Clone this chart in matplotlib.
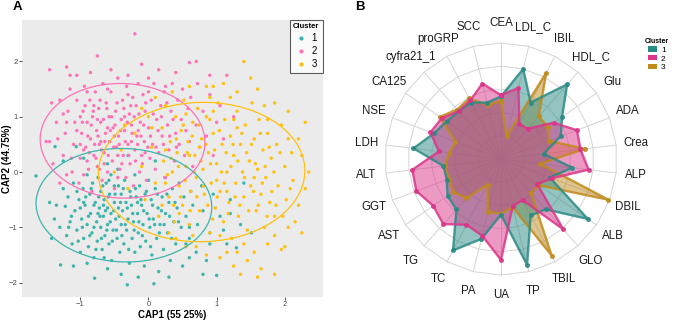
import numpy as np
import matplotlib.pyplot as plt
from matplotlib.patches import Ellipse, Patch
from matplotlib.lines import Line2D

plt.rcParams['font.family'] = ['Liberation Sans', 'DejaVu Sans']

# ---- panel A: CAP scores (a thinned sample of each cloud)
c1_pts = [(-1.65, -0.07), (-1.45, -0.55), (-1.38, -0.85), (-1.3, -1.0), (-1.29, -1.68), (-1.25, -0.3),
          (-1.22, -0.62), (-1.2, -1.15), (-1.18, -0.45), (-1.15, -0.9), (-1.12, -1.3), (-1.1, -0.2),
          (-1.08, -0.7), (-1.05, -1.05), (-1.02, -0.5), (-1.0, -1.45), (-0.98, -0.85), (-0.96, -0.3),
          (-0.95, -1.2), (-0.93, -0.6), (-0.9, -0.05), (-0.9, -0.95), (-0.88, -1.35), (-0.86, -0.4),
          (-0.85, -0.75), (-0.83, -1.1), (-0.82, -0.2), (-0.8, -1.55), (-0.79, -1.92), (-0.78, -0.55),
          (-0.76, -0.9), (-0.75, -1.25), (-0.74, -0.1), (-0.72, -0.65), (-0.7, -1.0), (-0.7, -0.35),
          (-0.68, -1.4), (-0.66, -0.8), (-0.65, -0.5), (-0.64, -1.15), (-0.62, -0.2), (-0.6, -0.95),
          (-0.6, -0.65), (-0.58, -1.3), (-0.57, -0.4), (-0.55, -0.75), (-0.54, -1.6), (-0.52, -1.05),
          (-0.5, -0.55), (-0.5, -0.25), (-0.48, -0.85), (-0.46, -1.2), (-0.45, 0.05), (-0.44, -0.65),
          (-0.42, -1.45), (-0.4, -0.4), (-0.4, -0.95), (-0.38, -0.7), (-0.36, -1.3), (-0.35, -0.15),
          (-0.33, -0.55), (-0.32, -1.05), (-0.31, -2.04), (-0.3, -0.85), (-0.28, -1.65), (-0.27, -0.35),
          (-0.25, -0.6), (-0.24, -1.2), (-0.22, -0.9), (-0.2, -0.05), (-0.2, -1.45), (-0.18, -0.45),
          (-0.16, -0.75), (-0.15, -1.1), (-0.13, -0.25), (-0.12, -1.35), (-0.1, -0.6), (-0.08, -0.95),
          (-0.06, -1.7), (-0.05, -0.4), (-0.04, -1.25), (-0.02, -0.75), (0.0, -0.15), (0.02, -1.0),
          (0.04, -0.5), (0.05, -1.5), (0.07, -0.85), (0.08, -2.02), (0.1, -0.3), (0.12, -1.2),
          (0.14, -0.65), (0.15, -1.8), (0.17, -0.95), (0.2, -0.45), (0.22, -1.4), (0.24, -0.1),
          (0.25, -0.75), (0.28, -1.1), (0.3, -0.55), (0.32, -1.6), (0.35, -0.3), (0.37, -0.9),
          (0.4, -1.3), (0.42, -0.65), (0.45, -0.2), (0.48, -1.0), (0.5, -1.7), (0.52, -0.45),
          (0.55, -0.8), (0.6, -1.2), (0.62, -0.35), (0.65, -0.6), (0.7, -1.45), (0.72, -0.95),
          (0.78, -0.25), (0.8, -0.7), (0.85, -1.6), (0.9, -1.1), (0.95, -0.4), (1.0, -1.87),
          (1.05, -0.8), (1.15, -1.3), (1.2, -0.5), (1.29, -1.37), (1.35, -0.95), (1.51, -1.1),
          (1.4, -0.2), (-1.37, 0.46), (-1.06, 0.46), (-1.25, 0.2), (-0.95, 0.25), (-0.6, 0.15),
          (-0.3, 0.3), (0.1, 0.2), (-1.42, -1.2), (-1.1, -1.7), (-0.6, -1.75), (-0.4, -1.85),
          (0.3, -1.9), (0.6, -1.55), (-0.65, -1.55), (-0.9, -1.65), (-1.35, -0.6), (-0.55, -0.05),
          (0.55, -1.3), (0.8, -1.85), (-0.15, -1.9),
          (-1.05, -0.35), (-1.0, -0.65), (-0.97, -1.0), (-0.92, -0.45), (-0.88, -0.8), (-0.84, -0.3),
          (-0.8, -0.6), (-0.8, -1.0), (-0.77, -1.4), (-0.73, -0.45), (-0.71, -0.8), (-0.69, -1.2),
          (-0.67, -0.25), (-0.63, -0.7), (-0.61, -1.05), (-0.59, -0.45), (-0.56, -0.9), (-0.53, -1.25),
          (-0.51, -0.7), (-0.49, -0.4), (-0.47, -1.05), (-0.43, -0.8), (-0.41, -0.55), (-0.39, -1.15),
          (-0.37, -0.3), (-0.34, -0.95), (-0.31, -0.65), (-0.29, -1.4), (-0.26, -0.45), (-0.23, -0.75),
          (-0.21, -1.05), (-0.19, -0.3), (-0.14, -0.9), (-0.11, -0.5), (-0.09, -1.15), (-0.07, -0.7),
          (-0.03, -0.35), (0.01, -0.85), (0.03, -1.35), (0.06, -0.6), (0.09, -0.95), (0.13, -0.4),
          (0.16, -1.1), (0.19, -0.7), (0.23, -0.95), (0.27, -0.4), (0.31, -0.8), (0.34, -1.2),
          (0.39, -0.55), (0.44, -0.9), (-1.13, -0.8), (-1.17, -1.0), (-1.03, -1.25), (-0.86, -1.15),
          (-0.66, -0.6), (-0.44, -0.25), (-0.58, -0.15), (-0.95, -0.55), (-0.74, -0.75), (-0.16, -0.55),
          (0.6, -1.0), (1.2, -0.75), (0.9, -1.3), (1.1, -1.05)]

c2_pts = [(-1.45, 1.85), (-1.2, 1.9), (-0.75, 2.1), (-0.2, 2.5), (0.6, 1.98), (0.7, 2.0), (-1.05, 1.75),
          (-0.1, 1.95), (0.15, 1.85), (0.4, 1.8), (1.15, 1.75), (-1.45, 0.55), (-1.5, 0.55), (-1.35, 0.9),
          (-1.3, 1.3), (-1.25, 0.3), (-1.22, 0.7), (-1.18, 1.1), (-1.15, 1.5), (-1.12, 0.0), (-1.1, 0.5),
          (-1.08, 0.9), (-1.05, 1.3), (-1.02, -0.2), (-1.0, 0.25), (-0.98, 0.7), (-0.96, 1.1),
          (-0.94, 1.55), (-0.92, 0.45), (-0.9, 0.9), (-0.88, 0.05), (-0.86, 1.3), (-0.85, 0.6),
          (-0.83, -0.35), (-0.82, 1.0), (-0.8, 0.3), (-0.78, 1.45), (-0.76, 0.75), (-0.75, 0.1),
          (-0.73, 1.15), (-0.72, 0.5), (-0.7, 0.9), (-0.68, -0.15), (-0.67, 1.6), (-0.65, 0.35),
          (-0.63, 0.7), (-0.62, 1.25), (-0.6, 0.0), (-0.58, 1.0), (-0.57, 0.55), (-0.55, 1.45),
          (-0.53, 0.2), (-0.52, 0.8), (-0.5, -0.3), (-0.48, 1.1), (-0.47, 0.45), (-0.45, 1.7),
          (-0.44, 0.65), (-0.42, 0.05), (-0.4, 0.95), (-0.38, 1.3), (-0.37, 0.3), (-0.35, 0.75),
          (-0.33, -0.1), (-0.32, 1.55), (-0.3, 0.5), (-0.28, 1.05), (-0.27, 0.15), (-0.25, 0.85),
          (-0.23, 1.35), (-0.22, -0.25), (-0.2, 0.4), (-0.18, 1.2), (-0.17, 0.65), (-0.15, 1.6),
          (-0.13, 0.0), (-0.12, 0.9), (-0.1, 0.3), (-0.08, 1.4), (-0.06, 0.55), (-0.05, 1.1),
          (-0.03, -0.15), (0.0, 0.8), (0.02, 0.25), (0.04, 1.3), (0.06, 0.5), (0.08, 1.6), (0.1, 0.05),
          (0.12, 0.95), (0.15, 0.35), (0.18, 1.2), (0.2, 0.65), (0.23, 1.45), (0.25, -0.1), (0.28, 0.85),
          (0.3, 0.4), (0.33, 1.1), (0.35, 1.6), (0.38, 0.2), (0.4, 0.7), (0.43, 1.3), (0.45, 0.5),
          (0.48, 0.95), (0.5, 1.5), (0.53, 0.3), (0.55, 0.75), (0.58, 1.15), (0.6, 0.55), (0.62, 1.35),
          (0.65, 0.1), (0.7, 0.85), (0.72, 1.6), (0.75, 0.45), (0.8, 1.1), (0.85, 0.65), (0.9, 1.4),
          (0.95, 0.3), (1.0, 0.9), (1.05, 1.2), (1.1, 0.6), (-1.3, -0.2), (-1.4, 0.15), (-1.2, -0.05),
          (-0.95, -0.05), (-1.15, 1.75), (-0.85, 1.8), (-0.55, 1.85), (-0.3, 1.75), (0.0, 1.7),
          (-0.9, 0.2), (-0.65, 0.15), (-0.7, 0.55), (-0.6, 0.8), (-0.5, 0.65), (-0.45, 0.3),
          (-0.35, 1.0), (-0.25, 0.55), (-0.15, 0.75), (-0.05, 0.35), (-0.8, 1.2), (-1.0, 1.0),
          (-0.75, 0.95), (-0.95, 0.4), (-1.25, 1.05), (1.25, 1.0), (0.9, 1.75), (-1.42, 1.25),
          (-1.05, 0.75), (-1.0, 0.5), (-0.97, 0.9), (-0.93, 1.2), (-0.89, 0.65), (-0.87, 0.35),
          (-0.84, 0.85), (-0.81, 1.1), (-0.79, 0.5), (-0.77, 0.25), (-0.74, 0.65), (-0.71, 1.3),
          (-0.69, 0.4), (-0.66, 0.95), (-0.64, 0.55), (-0.61, 1.15), (-0.59, 0.3), (-0.56, 0.75),
          (-0.54, 1.0), (-0.51, 0.45), (-0.49, 0.85), (-0.46, 1.25), (-0.43, 0.5), (-0.41, 0.75),
          (-0.39, 0.15), (-0.36, 1.15), (-0.34, 0.55), (-0.31, 0.9), (-0.29, 0.3), (-0.26, 1.2),
          (-0.24, 0.7), (-0.21, 1.0), (-0.19, 0.2), (-0.16, 0.5), (-0.14, 1.05), (-0.11, 0.65),
          (-0.09, 0.15), (-0.07, 0.85), (-0.04, 1.25), (-0.01, 0.45), (0.03, 0.65), (0.07, 1.05),
          (0.11, 0.45), (0.14, 0.75), (0.19, 1.0), (0.22, 0.5), (0.27, 1.25), (0.31, 0.65),
          (0.36, 0.95), (0.41, 0.45), (-1.13, 0.25), (-1.2, 0.9), (-0.9, 1.45), (-0.6, 1.5),
          (-0.3, 1.4), (0.0, 1.45), (-0.72, 0.05), (-0.45, -0.1), (-1.33, 0.6), (0.25, 1.55)]

c3_pts = [(1.4, 2.0), (1.5, 1.7), (1.85, 1.25), (2.05, 1.1), (2.35, 0.0), (2.3, -0.3), (1.95, -1.4),
          (1.6, -1.9), (1.25, -1.7), (0.85, 1.55), (0.9, 1.35), (1.1, 1.6), (1.3, 1.45), (1.6, 1.5),
          (1.75, 0.95), (2.2, 0.6), (2.25, 0.3), (2.2, -0.6), (2.05, -1.0), (1.85, -1.15), (1.55, -1.45),
          (1.3, -1.45), (1.05, -1.55), (0.7, -1.35), (0.4, -1.2), (0.3, -1.1), (-0.5, 0.0), (-0.4, 0.4),
          (-0.3, -0.3), (-0.2, 0.7), (-0.1, 0.1), (-0.05, -0.5), (0.0, 1.0), (0.05, 0.45), (0.1, -0.2),
          (0.15, -0.8), (0.2, 0.8), (0.22, 0.2), (0.25, 1.2), (0.3, -0.45), (0.32, 0.55), (0.35, 0.0),
          (0.38, -0.9), (0.4, 1.0), (0.42, 0.35), (0.45, -0.25), (0.48, 0.75), (0.5, -0.6), (0.52, 1.3),
          (0.55, 0.1), (0.58, 0.55), (0.6, -0.95), (0.62, -0.35), (0.65, 0.9), (0.68, 0.3), (0.7, -0.1),
          (0.72, 1.15), (0.75, -0.7), (0.78, 0.6), (0.8, 0.05), (0.82, -0.4), (0.85, 1.0), (0.88, 0.35),
          (0.9, -1.1), (0.92, -0.2), (0.95, 0.7), (0.98, -0.65), (1.0, 0.15), (1.02, 1.25), (1.05, -0.35),
          (1.08, 0.5), (1.1, -0.9), (1.12, 0.95), (1.15, 0.0), (1.18, -0.55), (1.2, 0.65), (1.22, -1.2),
          (1.25, 0.3), (1.28, -0.2), (1.3, 1.1), (1.32, -0.8), (1.35, 0.5), (1.38, 0.0), (1.4, -0.45),
          (1.42, 0.85), (1.45, -1.05), (1.48, 0.2), (1.5, -0.25), (1.52, 1.25), (1.55, 0.6), (1.58, -0.7),
          (1.6, 0.05), (1.62, 0.95), (1.65, -0.4), (1.68, 0.4), (1.7, -1.0), (1.72, -0.1), (1.75, 0.7),
          (1.78, -0.55), (1.8, 0.25), (1.85, -0.8), (1.88, 0.5), (1.9, -0.25), (1.95, 0.85), (2.0, 0.1),
          (2.02, -0.5), (2.1, 0.35), (2.12, -0.15), (2.15, -0.9), (2.25, -1.1), (2.0, -1.35), (1.75, -1.3),
          (1.45, -1.6), (1.15, -1.45), (0.85, -1.5), (0.55, -1.35), (0.95, 1.55), (1.2, 1.35), (1.7, 1.2),
          (0.6, 1.55), (0.35, 1.45), (0.1, 1.35), (-0.1, 1.15), (-0.35, 0.85), (1.85, -1.85), (1.65, -1.75),
          (1.35, -1.85), (2.3, 0.9), (1.0, -0.15), (0.75, 0.45), (1.3, 0.8), (0.6, 0.3), (0.45, -0.75),
          (1.15, -0.35), (0.9, 0.95), (1.55, -0.1), (0.25, -0.2), (0.05, 0.8),
          (0.25, 0.4), (0.28, -0.05), (0.33, 0.25), (0.37, -0.6), (0.41, 0.6), (0.44, 0.1), (0.47, -0.45),
          (0.51, 0.85), (0.54, -0.15), (0.57, 0.35), (0.61, -0.7), (0.64, 0.65), (0.67, 0.0), (0.71, -0.45),
          (0.74, 0.85), (0.77, 0.2), (0.81, -0.25), (0.84, 0.5), (0.87, -0.6), (0.91, 0.15), (0.94, -0.85),
          (0.97, 0.4), (1.01, -0.45), (1.04, 0.75), (1.07, 0.0), (1.11, -0.2), (1.14, 0.35), (1.17, -0.75),
          (1.21, 0.1), (1.24, 0.5), (1.27, -0.45), (1.31, 0.2), (1.34, -0.6), (1.37, 0.7), (1.41, -0.1),
          (1.44, 0.35), (1.47, -0.7), (1.51, 0.5), (1.54, -0.35), (1.57, 0.15), (1.61, -0.6), (1.64, 0.7),
          (1.67, -0.2), (1.71, 0.1), (1.74, -0.8), (1.77, 0.45), (1.81, -0.35), (1.84, 0.0), (1.87, -0.6),
          (1.93, 0.35), (1.97, -0.8), (2.05, 0.6), (2.08, -0.3), (0.95, 1.1), (1.25, 0.95), (0.55, 1.05),
          (0.2, -0.6), (0.65, -1.15), (1.05, -1.15), (1.4, -1.3)]

clusters = ['1', '2', '3']
ell_cx = [-0.36, -0.38, 0.78]
ell_cy = [-0.60, 0.565, 0.0]
ell_w = [2.58, 2.42, 3.03]
ell_h = [2.05, 2.07, 2.52]
ell_ang = [-4, -5, 3]

# ---- panel B: radar profile (scaled 0-1)
radar_vars = ['CEA', 'LDL_C', 'IBIL', 'HDL_C', 'Glu', 'ADA', 'Crea', 'ALP', 'DBIL', 'ALB', 'GLO',
              'TBIL', 'TP', 'UA', 'PA', 'TC', 'TG', 'AST', 'GGT', 'ALT', 'LDH', 'NSE', 'CA125',
              'cyfra21_1', 'proGRP', 'SCC']
radar_c1 = [0.54, 0.80, 0.55, 0.86, 0.64, 0.55, 0.37, 0.62, 0.45, 0.91, 0.58, 0.55, 0.94,
            0.48, 0.71, 0.89, 0.58, 0.56, 0.50, 0.50, 0.76, 0.62, 0.57, 0.55, 0.55, 0.50]
radar_c2 = [0.55, 0.63, 0.34, 0.35, 0.55, 0.70, 0.69, 0.76, 0.47, 0.38, 0.81, 0.40, 0.42,
            0.87, 0.68, 0.64, 0.75, 0.71, 0.78, 0.77, 0.54, 0.65, 0.62, 0.55, 0.57, 0.67]
radar_c3 = [0.50, 0.20, 0.84, 0.49, 0.49, 0.44, 0.73, 0.34, 0.99, 0.40, 0.39, 0.94, 0.43,
            0.47, 0.47, 0.25, 0.45, 0.50, 0.48, 0.49, 0.45, 0.42, 0.64, 0.57, 0.59, 0.48]
rings = [0.2, 0.4, 0.6, 0.8, 1.0]

pt_cols = ['#3DB5AC', '#FF72B6', '#FFC010']
rad_cols = ['#2A8A85', '#DB3589', '#C08A1C']

fig = plt.figure(figsize=(6.76, 3.2), dpi=100)

# ================= A
axA = fig.add_axes([22 / 676, 23 / 320, 301 / 676, 277 / 320])
axA.set_facecolor('#EBEBEB')
for pts, col in zip([c1_pts, c2_pts, c3_pts], pt_cols):
    xs, ys = zip(*pts)
    axA.scatter(xs, ys, s=6, color=col, edgecolors='none', zorder=2)
for i in range(3):
    axA.add_patch(Ellipse((ell_cx[i], ell_cy[i]), ell_w[i], ell_h[i], angle=ell_ang[i],
                          fill=False, edgecolor=pt_cols[i], lw=0.9, zorder=3))
axA.set_xlim(-1.855, 2.56)
axA.set_ylim(-2.26, 2.75)
axA.set_xticks([-1, 0, 1, 2])
axA.set_yticks([-2, -1, 0, 1, 2])
axA.tick_params(length=2, width=0.6, color='#333333', labelsize=5.5, labelcolor='#4D4D4D', pad=1)
for s in axA.spines.values():
    s.set_visible(False)
axA.set_xlabel('CAP1 (55 25%)', fontsize=7, fontweight='bold', labelpad=1)
axA.set_ylabel('CAP2 (44.75%)', fontsize=7, fontweight='bold')
axA.yaxis.set_label_coords(-10 / 301, 0.5)
hA = [Line2D([], [], ls='none', marker='o', ms=2, color=c) for c in pt_cols]
legA = axA.legend(hA, clusters, title='Cluster', loc='upper right', bbox_to_anchor=(1.0, 1.0),
                  fontsize=7, title_fontsize=5.5, frameon=True, fancybox=False,
                  handlelength=1.0, handletextpad=0.6, borderpad=0.35, labelspacing=0.3,
                  borderaxespad=0.0)
legA.get_title().set_fontweight('bold')
legA.get_frame().set_edgecolor('#333333')
legA.get_frame().set_linewidth(0.8)

fig.text(13 / 676, 1 - 7 / 320, 'A', fontsize=9.5, fontweight='bold', va='center', ha='left')
fig.text(355 / 676, 1 - 7 / 320, 'B', fontsize=9.5, fontweight='bold', va='center', ha='left')

# ================= B
axB = fig.add_axes([351 / 676, 11 / 320, 300 / 676, 300 / 320])
lim = 150 / 116
axB.set_xlim(-lim, lim)
axB.set_ylim(-lim, lim)
axB.axis('off')

n = len(radar_vars)
theta = np.arange(n) * 2 * np.pi / n
tc = np.append(theta, theta[0])
for r in rings:
    axB.plot(r * np.sin(tc), r * np.cos(tc), color='#D4D4D4', lw=0.7, zorder=1)
for t in theta:
    axB.plot([0, np.sin(t)], [0, np.cos(t)], color='#D4D4D4', lw=0.7, zorder=1)

series = [radar_c1, radar_c2, radar_c3]
for k in [2, 0, 1]:
    v = np.append(series[k], series[k][0])
    x = v * np.sin(tc)
    y = v * np.cos(tc)
    axB.fill(x, y, color=rad_cols[k], alpha=0.5, lw=0, zorder=2)
    axB.plot(x, y, color=rad_cols[k], lw=1.7, alpha=0.85, zorder=3,
             marker='o', ms=2.6, solid_joinstyle='round')

for name, t in zip(radar_vars, theta):
    axB.text(1.17 * np.sin(t), 1.17 * np.cos(t), name, ha='center', va='center',
             fontsize=8.3, color='#1A1A1A')

hB = [Patch(facecolor=c, edgecolor='none') for c in rad_cols]
legB = fig.legend(hB, clusters, title='Cluster', loc='upper left',
                  bbox_to_anchor=(645 / 676, 1 - 38 / 320), fontsize=6, title_fontsize=5,
                  frameon=False, handlelength=1.0, handleheight=0.6, handletextpad=0.5,
                  borderpad=0.0, labelspacing=0.15, borderaxespad=0.0)
legB.get_title().set_fontweight('bold')

fig.savefig('out.png', dpi=100)
